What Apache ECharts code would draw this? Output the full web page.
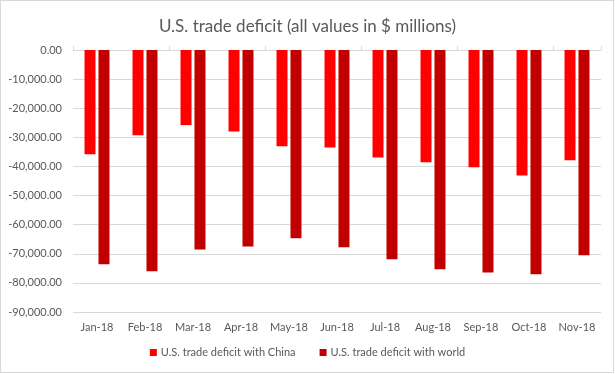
<!DOCTYPE html>
<html>
<head>
<meta charset="utf-8">
<script src="https://cdn.jsdelivr.net/npm/echarts@6/dist/echarts.min.js"></script>
<style>
html,body{margin:0;padding:0;background:#fff;}
#wrap{width:614px;height:373px;box-sizing:border-box;border:1px solid #d9d9d9;position:relative;}
#chart{position:absolute;left:-1px;top:-1px;width:615px;height:374px;}
</style>
</head>
<body>
<div id="wrap"><div id="chart"></div></div>
<script>
const categories = ['Jan-18','Feb-18','Mar-18','Apr-18','May-18','Jun-18','Jul-18','Aug-18','Sep-18','Oct-18','Nov-18'];
const chinaDeficit = [-35800, -29300, -25800, -28000, -33100, -33500, -36900, -38600, -40300, -43100, -37900];
const worldDeficit = [-73600, -76000, -68500, -67500, -64700, -67800, -71900, -75300, -76400, -77000, -70500];
const seriesNames = ['U.S. trade deficit with China', 'U.S. trade deficit with world'];
const titleText = 'U.S. trade deficit (all values in $ millions)';

const FONT = 'Lato';
const chart = echarts.init(document.getElementById('chart'), null, {renderer:'canvas'});
chart.setOption({
  animation:false,
  title:{text:titleText,left:'center',top:13,textStyle:{fontFamily:FONT,fontSize:17,fontWeight:'normal',color:'#595959'}},
  legend:{bottom:11,left:'center',itemWidth:7,itemHeight:7,itemGap:24,icon:'rect',
    textStyle:{fontFamily:FONT,fontSize:11,color:'#595959',padding:[0,0,0,-1]},data:seriesNames},
  grid:{left:73,right:14,top:50,bottom:62},
  xAxis:[{type:'category',data:categories,position:'bottom',
    axisLine:{show:false},axisTick:{show:false},
    axisLabel:{fontFamily:FONT,fontSize:11,color:'#595959',margin:10,interval:0}},
    {type:'category',data:categories,position:'top',
    axisLine:{show:true,onZero:false,lineStyle:{color:'#d9d9d9'}},
    axisTick:{show:true,length:4,lineStyle:{color:'#d9d9d9'}},
    axisLabel:{show:false}}],
  yAxis:{type:'value',min:-90000,max:0,interval:10000,
    axisLine:{show:false},axisTick:{show:false},
    splitLine:{lineStyle:{color:'#d9d9d9'}},
    axisLabel:{fontFamily:FONT,fontSize:11,color:'#595959',margin:11,
      formatter:v=>v.toLocaleString('en-US',{minimumFractionDigits:2,maximumFractionDigits:2})}},
  series:[
    {name:seriesNames[0],type:'bar',data:chinaDeficit,barWidth:11,barGap:'27%',itemStyle:{color:'#ff0000'}},
    {name:seriesNames[1],type:'bar',data:worldDeficit,barWidth:11,barGap:'27%',itemStyle:{color:'#c00000'}}
  ]
});
</script>
</body>
</html>
